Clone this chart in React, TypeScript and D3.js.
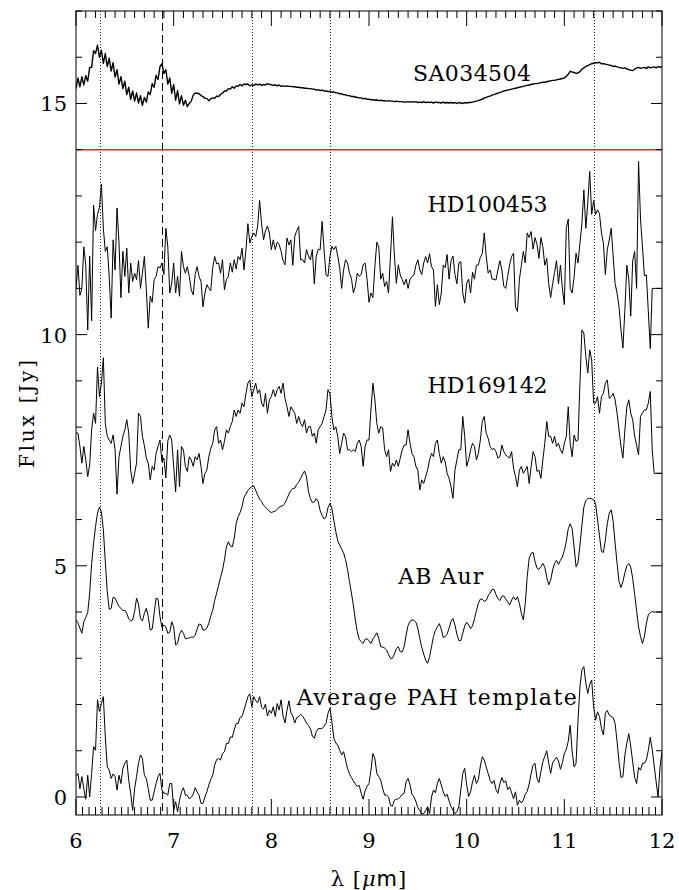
import React from "react";
import * as d3 from "d3";

// spectra sampled on a 0.02 micron grid from 6 to 12 micron
const WAVE_START = 6;
const WAVE_STEP = 0.02;

const sa034504 = [
  15.32, 15.55, 15.36, 15.58, 15.4, 15.6, 15.48, 15.78, 15.78, 16.14,
  16.08, 16.26, 16.0, 16.15, 15.87, 16.08, 15.8, 15.98, 15.7, 15.88,
  15.57, 15.73, 15.42, 15.58, 15.32, 15.48, 15.19, 15.35, 15.09, 15.27,
  15.05, 15.23, 15.01, 15.17, 14.96, 15.13, 15.03, 15.25, 15.19, 15.43,
  15.35, 15.61, 15.52, 15.8, 15.86, 15.65, 15.73, 15.42, 15.55, 15.22,
  15.41, 15.07, 15.28, 14.99, 15.17, 14.96, 15.07, 14.93, 15.0, 15.05,
  15.18, 15.23, 15.22, 15.21, 15.17, 15.15, 15.11, 15.11, 15.06, 15.1,
  15.12, 15.11, 15.16, 15.15, 15.2, 15.22, 15.27, 15.27, 15.32, 15.31,
  15.36, 15.33, 15.38, 15.37, 15.41, 15.38, 15.42, 15.41, 15.42, 15.38,
  15.4, 15.39, 15.42, 15.4, 15.42, 15.39, 15.41, 15.4, 15.43, 15.41,
  15.41, 15.39, 15.4, 15.38, 15.4, 15.37, 15.38, 15.37, 15.38, 15.37,
  15.37, 15.36, 15.36, 15.35, 15.35, 15.34, 15.34, 15.33, 15.33, 15.32,
  15.32, 15.31, 15.31, 15.29, 15.3, 15.28, 15.29, 15.27, 15.27, 15.26,
  15.26, 15.24, 15.25, 15.23, 15.23, 15.21, 15.21, 15.19, 15.19, 15.17,
  15.17, 15.15, 15.15, 15.14, 15.13, 15.12, 15.12, 15.1, 15.11, 15.09,
  15.09, 15.08, 15.08, 15.07, 15.08, 15.06, 15.07, 15.06, 15.06, 15.05,
  15.06, 15.05, 15.05, 15.04, 15.05, 15.04, 15.04, 15.04, 15.03, 15.03,
  15.04, 15.03, 15.04, 15.03, 15.04, 15.02, 15.03, 15.02, 15.04, 15.02,
  15.03, 15.02, 15.03, 15.01, 15.03, 15.02, 15.02, 15.01, 15.03, 15.01,
  15.02, 15.01, 15.02, 15.01, 15.02, 15.0, 15.02, 15.01, 15.0, 15.02,
  15.01, 15.02, 15.02, 15.03, 15.04, 15.05, 15.06, 15.08, 15.09, 15.12,
  15.13, 15.15, 15.16, 15.18, 15.19, 15.21, 15.22, 15.24, 15.25, 15.27,
  15.28, 15.29, 15.3, 15.31, 15.32, 15.33, 15.34, 15.35, 15.36, 15.37,
  15.38, 15.39, 15.4, 15.41, 15.42, 15.43, 15.43, 15.44, 15.45, 15.46,
  15.46, 15.47, 15.48, 15.49, 15.5, 15.5, 15.51, 15.52, 15.53, 15.54,
  15.55, 15.59, 15.63, 15.7, 15.68, 15.67, 15.65, 15.66, 15.69, 15.74,
  15.77, 15.8, 15.82, 15.84, 15.86, 15.87, 15.88, 15.88, 15.89, 15.86,
  15.86, 15.85, 15.84, 15.83, 15.82, 15.8, 15.81, 15.79, 15.78, 15.77,
  15.76, 15.77, 15.75, 15.73, 15.72, 15.71, 15.74, 15.77, 15.78, 15.76,
  15.77, 15.78, 15.76, 15.79, 15.77, 15.78, 15.79, 15.77, 15.8, 15.78,
  15.8,
];

const hd100453 = [
  11.0, 11.5, 10.85, 11.0, 11.9, 11.5, 10.1, 11.7, 10.3, 12.8,
  12.25, 12.6, 12.75, 13.25, 12.3, 11.8, 11.9, 11.26, 10.36, 12.05,
  11.4, 12.74, 12.0, 10.8, 11.8, 11.26, 11.87, 10.9, 11.55, 11.15,
  11.33, 11.19, 11.6, 11.0, 11.33, 11.69, 10.97, 10.14, 10.83, 10.7,
  11.19, 11.26, 11.47, 11.44, 11.55, 11.3, 12.3, 11.9, 10.9, 11.1,
  11.55, 10.9, 11.26, 10.83, 11.8, 11.47, 11.33, 11.47, 11.26, 10.97,
  10.86, 11.3, 11.47, 11.26, 11.15, 10.6, 10.9, 11.08, 11.0, 10.95,
  11.45, 11.69, 11.53, 11.55, 11.33, 11.62, 10.97, 11.19, 11.26, 11.55,
  11.35, 11.62, 11.42, 11.69, 11.62, 11.87, 11.4, 11.84, 12.4, 11.98,
  12.12, 12.2, 12.12, 12.35, 12.9, 12.4, 12.05, 12.25, 12.35, 12.2,
  11.84, 12.05, 11.84, 12.0, 11.95, 11.8, 11.6, 11.51, 12.09, 11.94,
  12.05, 11.5, 12.12, 12.25, 12.34, 11.62, 11.62, 11.55, 11.84, 11.7,
  11.62, 11.84, 11.1, 11.7, 11.84, 11.84, 12.45, 11.84, 11.29, 11.26,
  11.69, 11.91, 11.84, 11.91, 11.7, 11.45, 11.0, 11.4, 11.62, 11.55,
  11.33, 11.22, 10.9, 11.04, 11.33, 11.26, 11.3, 11.51, 11.55, 11.2,
  10.7, 10.9, 10.8, 11.47, 12.0, 11.9, 11.2, 11.33, 11.04, 11.15,
  10.9, 11.7, 12.55, 11.7, 11.11, 11.51, 11.29, 11.19, 11.08, 11.2,
  11.0, 11.2, 11.26, 11.29, 11.5, 11.62, 11.4, 11.3, 11.55, 11.69,
  11.55, 11.75, 11.47, 11.4, 10.61, 11.08, 10.65, 10.9, 11.5, 11.45,
  11.73, 11.2, 11.6, 11.7, 11.3, 11.1, 11.55, 11.58, 10.9, 10.68,
  11.11, 11.2, 10.9, 11.35, 11.2, 11.5, 11.51, 11.67, 11.75, 12.2,
  11.7, 11.33, 11.4, 11.2, 11.2, 11.18, 11.4, 11.6, 11.4, 11.05,
  11.0, 11.26, 11.51, 11.69, 11.76, 10.6, 10.5, 11.2, 11.5, 11.8,
  11.55, 12.2, 12.1, 12.23, 11.85, 12.1, 11.95, 11.65, 12.1, 11.9,
  11.5, 11.65, 11.1, 10.8, 11.1, 11.35, 11.6, 11.1, 11.5, 11.0,
  10.65, 12.3, 12.5, 11.0, 10.9, 11.25, 11.76, 11.55, 11.98, 12.4,
  13.13, 12.3, 12.85, 13.53, 12.6, 12.9, 12.6, 12.7, 12.62, 12.2,
  11.98, 11.3, 11.84, 12.05, 12.3, 11.7, 11.1, 10.9, 10.6, 10.1,
  9.71, 10.54, 11.5, 11.2, 10.4, 11.6, 11.8, 11.0, 13.75, 12.5,
  11.9, 11.27, 11.29, 10.5, 9.7, 11.0, 11.0, 11.0, 11.0, 11.0,
  11.0,
];

const hd169142 = [
  7.87, 7.87, 7.58, 7.22, 7.58, 7.29, 6.93, 7.18, 7.94, 8.3,
  8.08, 9.3, 8.66, 8.95, 9.5, 8.08, 7.8, 7.72, 7.65, 7.83,
  7.51, 6.55, 7.36, 7.58, 7.8, 7.94, 8.16, 7.87, 7.07, 6.78,
  7.0, 7.22, 8.3, 8.23, 7.8, 7.6, 7.33, 7.22, 6.86, 7.15,
  7.07, 7.43, 7.58, 7.72, 7.25, 7.33, 6.9, 7.7, 7.83, 7.72,
  7.15, 6.6, 7.51, 6.71, 7.58, 7.51, 7.15, 7.04, 7.36, 7.29,
  7.15, 7.36, 7.29, 7.43, 7.15, 6.78, 7.0, 7.07, 7.36, 7.54,
  7.65, 7.94, 8.01, 7.65, 7.72, 7.51, 7.69, 7.94, 7.87, 8.01,
  8.12, 8.37, 8.23, 8.37, 8.3, 8.52, 8.44, 8.73, 8.95, 9.02,
  8.66, 8.81, 8.95, 8.73, 8.81, 8.52, 8.44, 8.73, 8.3, 8.59,
  8.66, 8.81, 8.66, 8.81, 8.88, 8.73, 8.95, 8.62, 8.44, 8.23,
  8.44, 8.37, 8.3, 8.08, 8.23, 8.08, 8.01, 8.16, 7.87, 8.01,
  8.01, 7.8, 7.87, 7.65, 7.94, 8.01, 8.08, 8.23, 8.37, 8.81,
  8.73, 8.23, 7.94, 8.01, 7.8, 7.43, 7.65, 7.87, 7.8, 7.51,
  7.51, 7.47, 7.51, 7.47, 7.65, 7.72, 7.58, 7.15, 7.58, 7.72,
  7.72, 8.37, 8.95, 8.59, 8.08, 7.87, 8.01, 7.98, 7.51, 7.36,
  7.51, 7.04, 7.22, 7.15, 7.29, 7.15, 7.33, 7.51, 7.61, 7.61,
  7.94, 7.65, 7.43, 7.36, 7.15, 7.07, 6.64, 6.86, 6.78, 6.93,
  7.07, 7.29, 7.43, 7.36, 7.65, 7.72, 7.43, 7.22, 7.36, 7.25,
  7.0, 6.89, 6.71, 6.46, 7.07, 7.29, 7.51, 7.51, 8.23, 7.8,
  7.15, 7.29, 7.51, 7.65, 7.58, 7.29, 7.43, 7.72, 8.12, 8.23,
  7.87, 7.76, 7.58, 7.51, 7.54, 7.47, 7.33, 7.36, 7.61, 7.47,
  7.4, 7.36, 7.33, 7.47, 7.11, 6.93, 6.71, 7.07, 7.15, 7.0,
  7.07, 7.15, 6.78, 7.15, 7.47, 7.36, 7.04, 7.07, 6.89, 7.29,
  7.65, 8.12, 7.8, 7.8, 7.65, 7.8, 7.58, 7.65, 7.51, 7.43,
  7.65, 7.8, 8.44, 7.65, 7.36, 7.83, 7.69, 7.72, 8.95, 10.1,
  10.03, 9.53, 9.17, 9.67, 9.45, 8.52, 8.52, 8.66, 8.3, 8.66,
  8.73, 8.95, 9.02, 8.62, 8.66, 8.73, 8.59, 8.3, 7.94, 7.58,
  7.33, 7.94, 8.44, 8.59, 8.3, 8.16, 7.8, 7.61, 7.4, 8.23,
  8.3, 8.37, 8.37, 8.52, 8.77, 7.51, 7.0, 7.0, 7.0, 7.0,
  7.0,
];

const abAur = [
  3.83, 3.77, 3.65, 3.54, 3.79, 3.88, 3.99, 4.41, 5.05, 5.49,
  5.85, 6.14, 6.27, 6.16, 5.78, 5.09, 4.44, 4.06, 4.08, 4.32,
  4.3, 4.21, 4.12, 4.08, 4.03, 4.04, 3.97, 3.85, 3.81, 3.83,
  4.01, 4.3, 4.17, 3.86, 3.81, 3.97, 4.08, 3.9, 3.61, 3.63,
  3.97, 4.3, 4.28, 3.9, 3.67, 3.72, 3.68, 3.54, 3.56, 3.79,
  3.68, 3.29, 3.32, 3.52, 3.61, 3.54, 3.42, 3.43, 3.44, 3.46,
  3.45, 3.5, 3.63, 3.74, 3.73, 3.61, 3.61, 3.65, 3.76, 3.91,
  4.04, 4.25, 4.41, 4.58, 4.75, 4.91, 5.13, 5.41, 5.52, 5.43,
  5.41, 5.59, 5.92, 6.06, 6.15, 6.28, 6.48, 6.55, 6.63, 6.68,
  6.71, 6.73, 6.63, 6.53, 6.44, 6.39, 6.31, 6.27, 6.22, 6.18,
  6.15, 6.17, 6.18, 6.22, 6.27, 6.29, 6.3, 6.36, 6.45, 6.55,
  6.63, 6.67, 6.68, 6.76, 6.81, 6.89, 6.98, 7.05, 6.93, 6.61,
  6.45, 6.37, 6.38, 6.45, 6.39, 6.19, 6.09, 6.01, 6.05, 6.26,
  6.35, 6.25, 5.98, 5.74, 5.54, 5.45, 5.36, 5.28, 5.13, 4.92,
  4.66, 4.41, 4.15, 3.83, 3.58, 3.41, 3.36, 3.32, 3.41, 3.42,
  3.38, 3.32, 3.42, 3.48, 3.55, 3.43, 3.25, 3.24, 3.22, 3.18,
  3.08, 3.0, 3.0, 3.09, 3.21, 3.25, 3.14, 3.14, 3.25, 3.5,
  3.71, 3.8, 3.83, 3.82, 3.78, 3.65, 3.43, 3.24, 3.09, 2.96,
  2.89, 3.03, 3.25, 3.47, 3.6, 3.68, 3.75, 3.63, 3.45, 3.47,
  3.52, 3.65, 3.8, 3.86, 3.72, 3.52, 3.38, 3.38, 3.54, 3.7,
  3.78, 3.72, 3.64, 3.7, 3.85, 4.03, 4.19, 4.28, 4.28, 4.23,
  4.25, 4.35, 4.41, 4.49, 4.49, 4.38, 4.29, 4.25, 4.34, 4.35,
  4.28, 4.22, 4.15, 4.26, 4.33, 4.26, 4.33, 4.19, 3.97, 3.83,
  4.19, 4.77, 5.16, 5.27, 5.29, 5.09, 4.95, 4.92, 4.98, 5.05,
  4.97, 4.75, 4.59, 4.69, 4.91, 5.05, 5.12, 5.03, 5.12, 5.19,
  5.33, 5.53, 5.8, 5.91, 5.8, 5.41, 4.98, 5.07, 5.45, 5.88,
  6.27, 6.41, 6.45, 6.46, 6.45, 6.43, 6.34, 5.99, 5.65, 5.31,
  5.29, 5.56, 5.91, 6.14, 6.21, 5.96, 5.49, 5.05, 4.66, 4.53,
  4.66, 4.85, 5.0, 5.05, 4.97, 4.73, 4.38, 4.03, 3.68, 3.47,
  3.32, 3.47, 3.76, 3.94, 3.99, 4.01, 4.0, 4.0, 4.0, 4.0,
  4.0,
];

const pahTemplate = [
  0.44, 0.51, 0.18, 0.44, 0.18, -0.05, 0.47, 0.0, 0.51, 1.09,
  1.01, 2.1, 1.85, 2.02, 2.17, 1.3, 0.65, 0.58, 0.4, 0.5,
  0.44, 0.15, 0.47, 0.29, 0.62, 0.73, 0.8, 0.36, 0.08, -0.29,
  0.18, 0.44, 0.73, 0.91, 0.83, 0.47, 0.4, 0.18, -0.07, -0.07,
  0.11, 0.29, 0.44, 0.51, 0.15, 0.08, 0.08, 0.04, 0.29, 0.29,
  -0.29, -0.1, -0.32, -0.07, 0.11, 0.2, 0.04, 0.04, -0.04, -0.01,
  0.06, 0.2, 0.11, 0.04, -0.14, -0.14, 0.0, 0.11, 0.26, 0.38,
  0.47, 0.69, 0.81, 0.83, 0.8, 0.94, 0.98, 1.16, 1.16, 1.3,
  1.29, 1.45, 1.59, 1.59, 1.72, 1.74, 1.88, 2.02, 2.17, 2.23,
  1.95, 2.17, 2.08, 2.04, 2.17, 1.94, 1.9, 2.01, 1.75, 1.88,
  1.81, 1.95, 1.74, 2.02, 1.88, 2.1, 1.75, 1.6, 1.87, 2.08,
  1.82, 1.75, 1.6, 1.72, 1.74, 1.79, 1.75, 1.68, 1.6, 1.55,
  1.48, 1.32, 1.27, 1.41, 1.48, 1.48, 1.48, 1.53, 1.59, 1.81,
  1.92, 1.63, 1.27, 1.17, 1.12, 1.01, 0.91, 0.98, 0.8, 0.62,
  0.5, 0.42, 0.35, 0.28, 0.23, 0.25, 0.08, -0.05, 0.13, 0.23,
  0.29, 0.58, 0.94, 0.83, 0.51, 0.44, 0.36, 0.18, 0.04, 0.04,
  0.0, -0.18, -0.2, -0.07, -0.05, -0.04, 0.0, 0.06, 0.08, 0.33,
  0.4, 0.26, 0.06, 0.0, -0.1, -0.23, -0.3, -0.36, -0.36, -0.29,
  -0.21, -0.36, 0.0, 0.15, 0.09, 0.29, 0.4, 0.26, 0.11, 0.01,
  0.06, -0.09, -0.21, -0.29, -0.36, -0.32, -0.21, 0.15, 0.51, 0.62,
  0.26, 0.01, 0.11, 0.33, 0.47, 0.29, 0.38, 0.67, 0.87, 0.8,
  0.65, 0.51, 0.36, 0.29, 0.36, 0.16, 0.08, 0.28, 0.42, 0.31,
  0.35, 0.16, 0.22, 0.09, -0.04, 0.11, -0.18, -0.07, -0.13, -0.07,
  0.06, 0.12, 0.28, 0.51, 0.69, 0.73, 0.4, 0.31, 0.55, 0.76,
  0.88, 1.0, 0.73, 0.51, 0.74, 0.8, 0.86, 0.78, 0.6, 0.74,
  0.94, 1.03, 1.2, 1.55, 0.98, 0.65, 0.73, 1.66, 2.38, 2.75,
  2.82, 2.46, 2.24, 2.44, 2.53, 1.95, 1.66, 1.84, 1.74, 1.48,
  1.34, 1.81, 1.87, 1.77, 1.74, 1.72, 1.59, 1.2, 0.76, 0.42,
  0.44, 0.91, 1.16, 1.37, 1.1, 0.76, 0.42, 0.29, 0.64, 0.58,
  0.73, 0.73, 0.8, 1.01, 1.29, 1.03, 0.67, 0.33, 0.0, 0.65,
  0.98,
];

// feature markers
const dottedLines = [6.25, 7.8, 8.6, 11.3];
const dashedLines = [6.88];
const separatorFlux = 14;

const xTickLabels = [6, 7, 8, 9, 10, 11, 12];
const yTickLabels = [0, 5, 10, 15];

// label anchor: left edge wavelength, baseline flux, text width
const seriesLabels = [
  { text: "SA034504", wave: 9.45, flux: 15.49, len: 118 },
  { text: "HD100453", wave: 9.6, flux: 12.65, len: 120 },
  { text: "HD169142", wave: 9.6, flux: 8.74, len: 120 },
  { text: "AB Aur", wave: 9.3, flux: 4.61, len: 85 },
  { text: "Average PAH template", wave: 8.26, flux: 1.99, len: 280 },
];

const WIDTH = 679;
const HEIGHT = 890;
const plot = { left: 76, right: 662, top: 11, bottom: 815 };

const SERIF = "DejaVu Serif";

export default function App() {
  const x = d3.scaleLinear().domain([6, 12]).range([plot.left, plot.right]);
  const y = d3.scaleLinear().domain([-0.39, 17]).range([plot.bottom, plot.top]);
  const crisp = (v: number) => Math.round(v) + 0.5;

  const line = d3
    .line<number>()
    .x((_, i) => x(WAVE_START + i * WAVE_STEP))
    .y((d) => y(d));

  const spectra = [sa034504, hd100453, hd169142, abAur, pahTemplate];

  const topMinor = d3.range(0, 61).map((i) => 6 + i / 10);
  const bottomMinor = d3.range(0, 91).map((i) => 6 + i / 15);
  const yMinor = d3.range(0, 18);

  return (
    <div style={{ position: "absolute", left: 0, top: 0 }}>
      <svg width={WIDTH} height={HEIGHT} style={{ display: "block", background: "#fff" }}
        fontFamily={SERIF}>
        <defs>
          <clipPath id="plot-area">
            <rect x={plot.left} y={plot.top} width={plot.right - plot.left} height={plot.bottom - plot.top} />
          </clipPath>
        </defs>

        {/* reference lines */}
        <line x1={plot.left} x2={plot.right} y1={y(separatorFlux)} y2={y(separatorFlux)} stroke="#ff1a1a" strokeWidth={1.5} />
        {dottedLines.map((w) => (
          <line key={"dot" + w} x1={crisp(x(w))} x2={crisp(x(w))} y1={plot.top} y2={plot.bottom}
            stroke="#222" strokeWidth={1} strokeDasharray="1,2" />
        ))}
        {dashedLines.map((w) => (
          <line key={"dash" + w} x1={crisp(x(w))} x2={crisp(x(w))} y1={plot.top} y2={plot.bottom}
            stroke="#000" strokeWidth={1} strokeDasharray="8,4" />
        ))}

        {/* spectra */}
        <g clipPath="url(#plot-area)">
          {spectra.map((s, i) => (
            <path key={i} d={line(s) || ""} fill="none" stroke="#000" strokeWidth={i === 0 ? 1.4 : 1} strokeLinejoin="round" />
          ))}
        </g>

        {/* frame + ticks */}
        <rect x={plot.left} y={plot.top} width={plot.right - plot.left} height={plot.bottom - plot.top}
          fill="none" stroke="#000" strokeWidth={1} />
        <g stroke="#000" strokeWidth={1}>
          {topMinor.map((w, i) => {
            const len = i % 10 === 0 ? 15 : 7;
            return <line key={"tt" + i} x1={x(w)} x2={x(w)} y1={plot.top} y2={plot.top + len} />;
          })}
          {bottomMinor.map((w, i) => {
            const len = i % 15 === 0 ? 16 : 8;
            return <line key={"bt" + i} x1={x(w)} x2={x(w)} y1={plot.bottom} y2={plot.bottom - len} />;
          })}
          {yMinor.map((v) => {
            const len = v % 5 === 0 ? 11 : 6;
            return (
              <g key={"yt" + v}>
                <line x1={plot.left} x2={plot.left + len} y1={y(v)} y2={y(v)} />
                <line x1={plot.right} x2={plot.right - len} y1={y(v)} y2={y(v)} />
              </g>
            );
          })}
        </g>

        {/* tick labels */}
        {xTickLabels.map((w) => (
          <text key={"xl" + w} x={x(w)} y={848} textAnchor="middle" fontSize={21}>{w}</text>
        ))}
        {yTickLabels.map((v) => (
          <text key={"yl" + v} x={67} y={y(v) + 8} textAnchor="end" fontSize={21}>{v}</text>
        ))}

        {/* axis titles */}
        <text transform="translate(34, 414) rotate(-90)" textAnchor="middle" fontSize={20}
          textLength={108} lengthAdjust="spacing">Flux [Jy]</text>
        <text x={369} y={886} textAnchor="middle" fontSize={21} letterSpacing={1}>
          λ [<tspan fontStyle="italic">μ</tspan><tspan fontFamily="DejaVu Sans">m</tspan>]
        </text>

        {/* series labels */}
        {seriesLabels.map((l) => (
          <text key={l.text} x={x(l.wave)} y={y(l.flux)} fontSize={22}
            textLength={l.len} lengthAdjust="spacing">{l.text}</text>
        ))}
      </svg>
    </div>
  );
}
